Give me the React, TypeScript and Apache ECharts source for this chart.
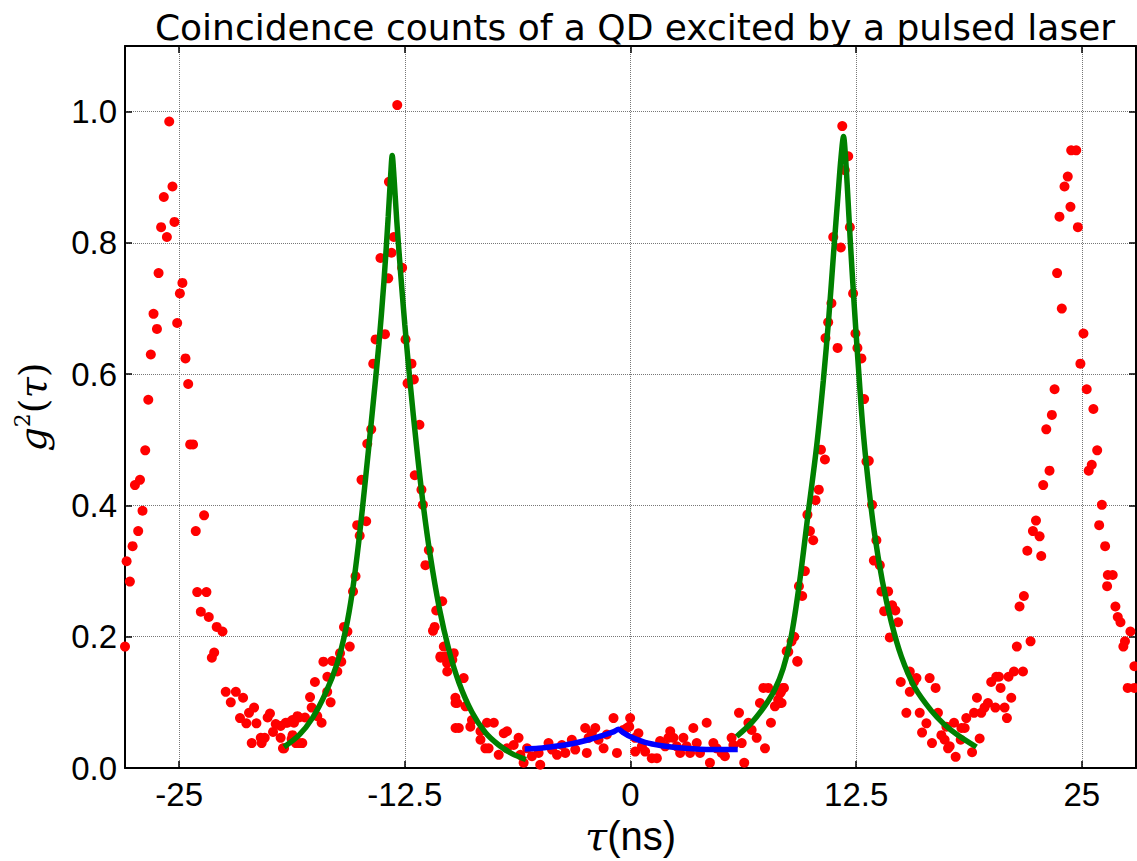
import React, { useEffect, useRef } from "react";
import * as echarts from "echarts";

const xTicks = [-25, -12.5, 0, 12.5, 25];
const yTicks = [0, 0.2, 0.4, 0.6, 0.8, 1.0];

const leftEdgeDots: [number, number][] = [
  [-28.0, 0.185], [-27.91, 0.315], [-27.73, 0.284], [-27.58, 0.338], [-27.45, 0.431], [-27.27, 0.361],
  [-27.17, 0.439], [-27.03, 0.392], [-26.88, 0.484], [-26.71, 0.561], [-26.57, 0.63], [-26.42, 0.692],
  [-26.23, 0.669], [-26.14, 0.754], [-26.0, 0.824], [-25.85, 0.87], [-25.68, 0.809], [-25.55, 0.985],
  [-25.37, 0.886], [-25.26, 0.832], [-25.11, 0.678], [-24.96, 0.723], [-24.82, 0.739], [-24.65, 0.624],
  [-24.5, 0.585], [-24.39, 0.493], [-24.23, 0.493], [-24.08, 0.361], [-24.0, 0.268], [-23.8, 0.238],
  [-23.62, 0.385], [-23.49, 0.268], [-23.36, 0.23], [-23.19, 0.168], [-23.06, 0.176], [-22.92, 0.215],
  [-22.6, 0.208], [-22.42, 0.116], [-22.14, 0.1], [-21.86, 0.116], [-21.63, 0.076], [-21.46, 0.107],
  [-21.28, 0.068], [-21.13, 0.084], [-20.98, 0.038], [-20.85, 0.092], [-20.72, 0.068], [-20.48, 0.046],
  [-20.43, 0.038], [-20.26, 0.046], [-20.1, 0.077], [-19.97, 0.083], [-19.8, 0.055], [-19.65, 0.067],
  [-19.38, 0.046], [-19.25, 0.03], [-19.0, 0.069], [-18.72, 0.05], [-18.64, 0.069], [-18.54, 0.038],
  [-18.45, 0.079],
];

const leftPeakDots: [number, number][] = [
  [-19.38, 0.064], [-19.19, 0.03], [-19.1, 0.069], [-18.77, 0.044], [-18.73, 0.073], [-18.36, 0.077],
  [-18.36, 0.038], [-18.18, 0.038], [-18.03, 0.077], [-17.75, 0.108], [-17.66, 0.092], [-17.48, 0.131],
  [-17.35, 0.079], [-17.11, 0.069], [-17.01, 0.162], [-16.8, 0.116], [-16.79, 0.139], [-16.61, 0.1],
  [-16.52, 0.163], [-16.24, 0.147], [-16.09, 0.175], [-16.02, 0.162], [-15.87, 0.215], [-15.68, 0.208],
  [-15.55, 0.185], [-15.37, 0.269], [-15.23, 0.292], [-15.14, 0.37], [-15.0, 0.354], [-14.9, 0.439],
  [-14.64, 0.376], [-14.58, 0.494], [-14.36, 0.516], [-14.25, 0.616], [-14.12, 0.653], [-13.85, 0.777],
  [-13.6, 0.661], [-13.42, 0.746], [-13.38, 0.893], [-13.24, 0.785], [-13.11, 0.809], [-12.92, 1.01],
  [-12.65, 0.762], [-12.46, 0.653], [-12.35, 0.586], [-12.13, 0.616], [-12.0, 0.592], [-11.95, 0.446],
  [-11.69, 0.523], [-11.58, 0.424], [-11.5, 0.401], [-11.36, 0.309], [-11.17, 0.332], [-10.94, 0.209],
  [-10.85, 0.215], [-10.76, 0.24], [-10.52, 0.168], [-10.43, 0.254], [-10.34, 0.185], [-10.24, 0.17],
  [-10.15, 0.147], [-9.87, 0.165], [-9.69, 0.099], [-9.69, 0.061],
];

const centerDots: [number, number][] = [
  [-10.53, 0.17], [-9.79, 0.175], [-10.16, 0.16], [-9.24, 0.137], [-9.7, 0.107], [-9.14, 0.094],
  [-9.6, 0.099], [-9.51, 0.061], [-8.87, 0.063], [-8.78, 0.073], [-8.31, 0.056], [-7.95, 0.069],
  [-7.57, 0.069], [-7.02, 0.053], [-6.84, 0.056], [-8.31, 0.043], [-8.04, 0.03], [-7.86, 0.03],
  [-7.3, 0.02], [-6.84, 0.03], [-6.47, 0.035], [-6.2, 0.046], [-6.1, 0.02], [-5.92, 0.008],
  [-5.73, 0.03], [-5.46, 0.018], [-5.09, 0.023], [-5.0, 0.005], [-4.54, 0.038], [-4.35, 0.028],
  [-4.07, 0.02], [-3.8, 0.035], [-3.61, 0.023], [-3.25, 0.043], [-3.06, 0.028], [-2.51, 0.061],
  [-2.32, 0.046], [-2.14, 0.053], [-2.42, 0.023], [-1.95, 0.061], [-1.77, 0.043], [-1.49, 0.03],
  [-1.31, 0.051], [-0.94, 0.076], [-0.75, 0.023], [-0.39, 0.058], [-0.02, 0.076], [0.26, 0.046],
  [0.26, 0.025], [-0.07, 0.063], [-0.2, 0.061], [0.44, 0.053], [0.63, 0.033], [0.81, 0.025],
  [1.18, 0.015], [1.46, 0.015], [1.64, 0.041], [1.92, 0.033], [2.2, 0.056], [2.38, 0.046],
  [2.1, 0.046], [2.56, 0.033], [2.75, 0.023], [2.93, 0.046], [3.11, 0.033], [3.3, 0.023],
  [3.48, 0.061], [3.67, 0.038], [3.85, 0.023], [4.22, 0.069], [4.4, 0.008], [4.59, 0.038],
  [4.77, 0.03], [5.05, 0.023], [5.23, 0.018], [5.6, 0.046], [5.7, 0.035], [6.01, 0.084],
  [6.16, 0.038], [6.3, 0.008], [6.53, 0.069], [6.71, 0.058], [6.99, 0.046], [7.45, 0.03],
  [7.17, 0.099], [7.36, 0.122], [7.63, 0.122], [7.78, 0.069], [8.0, 0.094], [8.18, 0.104],
  [8.37, 0.099], [8.46, 0.122], [8.28, 0.114], [8.65, 0.178], [8.92, 0.193], [9.24, 0.163],
];

const rightPeakDots: [number, number][] = [
  [8.28, 0.099], [8.34, 0.116], [8.5, 0.122], [8.74, 0.177], [9.07, 0.2], [9.25, 0.162],
  [9.33, 0.277], [9.51, 0.262], [9.66, 0.3], [9.8, 0.386], [9.94, 0.361], [10.12, 0.347],
  [10.25, 0.408], [10.43, 0.424], [10.55, 0.485], [10.77, 0.47], [10.8, 0.655], [10.95, 0.679],
  [11.13, 0.708], [11.23, 0.809], [11.47, 0.64], [11.65, 0.793], [11.73, 0.978], [11.87, 0.911],
  [12.06, 0.932], [12.15, 0.824], [12.33, 0.723], [12.46, 0.662], [12.57, 0.64], [12.79, 0.624],
  [12.94, 0.562], [13.07, 0.467], [13.2, 0.468], [13.38, 0.401], [13.48, 0.316], [13.62, 0.347],
  [13.81, 0.309], [13.9, 0.269], [14.05, 0.239], [14.27, 0.269], [14.36, 0.199], [14.49, 0.248],
  [14.67, 0.24], [14.82, 0.222], [14.97, 0.131], [15.28, 0.084], [15.47, 0.147], [15.47, 0.116],
  [15.7, 0.131], [15.84, 0.137], [16.02, 0.084], [16.15, 0.054], [16.39, 0.068], [16.57, 0.137],
  [16.7, 0.038], [16.9, 0.122], [17.03, 0.084], [17.22, 0.05], [17.4, 0.043], [17.5, 0.063],
  [17.59, 0.03], [17.68, 0.033], [17.92, 0.069], [18.01, 0.017],
];

const rightEdgeDots: [number, number][] = [
  [18.33, 0.061], [18.51, 0.061], [18.29, 0.043], [18.6, 0.076], [18.92, 0.024], [19.03, 0.084],
  [19.19, 0.107], [19.34, 0.045], [19.43, 0.084], [19.61, 0.092], [19.8, 0.099], [19.98, 0.131],
  [20.21, 0.092], [20.26, 0.139], [20.41, 0.139], [20.5, 0.122], [20.72, 0.092], [20.85, 0.076],
  [20.94, 0.139], [21.09, 0.107], [21.24, 0.147], [21.4, 0.185], [21.55, 0.246], [21.74, 0.147],
  [21.79, 0.262], [21.98, 0.331], [22.16, 0.193], [22.29, 0.361], [22.46, 0.377], [22.66, 0.353],
  [22.75, 0.323], [22.86, 0.431], [23.03, 0.516], [23.21, 0.453], [23.34, 0.538], [23.49, 0.577],
  [23.63, 0.754], [23.76, 0.84], [23.89, 0.7], [24.04, 0.886], [24.22, 0.901], [24.37, 0.855],
  [24.41, 0.941], [24.69, 0.941], [24.78, 0.824], [24.92, 0.616], [25.09, 0.662], [25.27, 0.577],
  [25.38, 0.453], [25.55, 0.462], [25.64, 0.547], [25.85, 0.484], [25.96, 0.37], [26.11, 0.401],
  [26.29, 0.338], [26.4, 0.277], [26.44, 0.294], [26.71, 0.294], [26.86, 0.246], [26.99, 0.23],
  [27.14, 0.222], [27.3, 0.185], [27.39, 0.193], [27.54, 0.122], [27.69, 0.208], [27.91, 0.155],
  [27.91, 0.122],
];

const leftFitX = [-19.19, -18.36, -17.62, -16.89, -16.24, -15.78, -15.41, -15.05, -14.68, -14.31, -13.94,
  -13.66, -13.42, -13.28, -13.2, -13.1, -12.95, -12.75, -12.5, -12.2, -11.85, -11.5, -11.1, -10.6,
  -10.06, -9.5, -8.78, -8.04, -7.3, -6.57, -5.79];
const leftFitY = [0.032, 0.05, 0.076, 0.114, 0.16, 0.21, 0.268, 0.345, 0.44, 0.54, 0.645,
  0.74, 0.84, 0.905, 0.933, 0.9, 0.835, 0.76, 0.675, 0.585, 0.49, 0.405, 0.325, 0.245,
  0.18, 0.13, 0.085, 0.054, 0.035, 0.022, 0.013];

const rightFitX = [5.88, 6.71, 7.45, 8.0, 8.46, 8.9, 9.35, 9.85, 10.31, 10.68, 10.98, 11.25, 11.5,
  11.66, 11.8, 11.9, 12.02, 12.18, 12.38, 12.6, 12.85, 13.15, 13.5, 13.95, 14.45, 15.0, 15.74, 16.67,
  17.4, 18.14, 19.16];
const rightFitY = [0.048, 0.069, 0.095, 0.12, 0.152, 0.2, 0.28, 0.39, 0.49, 0.59, 0.685, 0.785,
  0.875, 0.93, 0.962, 0.935, 0.88, 0.8, 0.71, 0.62, 0.525, 0.44, 0.36, 0.285, 0.222, 0.17, 0.123,
  0.087, 0.066, 0.05, 0.032];

const blueFitX = [-5.86, -5.09, -4.17, -3.25, -2.32, -1.4, -0.95, -0.66, -0.4, -0.02, 0.81, 1.73, 3.02, 4.5, 5.94];
const blueFitY = [0.029, 0.03, 0.033, 0.037, 0.043, 0.051, 0.055, 0.059, 0.054, 0.048, 0.039, 0.034, 0.03, 0.028, 0.028];

const zip = (xs: number[], ys: number[]) => xs.map((x, i) => [x, ys[i]]);

export default function App() {
  const ref = useRef<HTMLDivElement>(null);
  useEffect(() => {
    if (!ref.current) return;
    const chart = echarts.init(ref.current, null, { renderer: "svg" });
    const black = "#000";
    const tickFont = { fontSize: 33, fontFamily: "Liberation Sans, Arial, sans-serif", color: black };
    const dots = [...leftEdgeDots, ...leftPeakDots, ...centerDots, ...rightPeakDots, ...rightEdgeDots];
    const fitLine = (xs: number[], ys: number[], color: string) => ({
      type: "line",
      data: zip(xs, ys),
      showSymbol: false,
      smooth: 0.3,
      lineStyle: { color, width: 5.5 },
    });
    chart.setOption({
      animation: false,
      backgroundColor: "#fff",
      title: {
        text: "Coincidence counts of a QD excited by a pulsed laser",
        left: 630,
        textAlign: "center",
        top: 4,
        textStyle: { fontFamily: "DejaVu Sans", fontSize: 36, fontWeight: "normal", color: black },
      },
      grid: { left: 125, top: 46, right: 1, bottom: 91, containLabel: false },
      xAxis: [
        {
          type: "value",
          min: -28,
          max: 28,
          position: "bottom",
          axisLine: { show: true, onZero: false, lineStyle: { color: black, width: 2 } },
          axisTick: { show: true, inside: true, length: 7, customValues: xTicks, lineStyle: { color: black, width: 1.5 } },
          axisLabel: { ...tickFont, margin: 10, customValues: xTicks, formatter: (v: number) => String(v) },
          splitLine: { show: true, lineStyle: { type: "dotted", color: "#777", width: 1 } },
          name: "{t|τ}{n|(ns)}",
          nameLocation: "middle",
          nameGap: 48,
          nameTextStyle: {
            rich: {
              t: { fontFamily: "DejaVu Serif", fontStyle: "italic", fontSize: 40, color: black },
              n: { fontFamily: "Liberation Sans", fontSize: 40, color: black },
            },
          },
        },
        {
          type: "value",
          min: -28,
          max: 28,
          position: "top",
          axisLine: { show: true, onZero: false, lineStyle: { color: black, width: 2 } },
          axisTick: { show: true, inside: true, length: 7, customValues: xTicks, lineStyle: { color: black, width: 1.5 } },
          axisLabel: { show: false },
          splitLine: { show: false },
        },
      ],
      yAxis: [
        {
          type: "value",
          min: 0,
          max: 1.1,
          position: "left",
          axisLine: { show: true, onZero: false, lineStyle: { color: black, width: 2 } },
          axisTick: { show: true, inside: true, length: 7, customValues: yTicks, lineStyle: { color: black, width: 1.5 } },
          axisLabel: { ...tickFont, margin: 8, customValues: yTicks, formatter: (v: number) => v.toFixed(1) },
          splitLine: { show: true, lineStyle: { type: "dotted", color: "#777", width: 1 } },
          name: "{g|g}{s|2}{p|(}{t|τ}{p|)}",
          nameLocation: "middle",
          nameRotate: 90,
          nameGap: 70,
          nameTextStyle: {
            rich: {
              g: { fontFamily: "DejaVu Serif", fontStyle: "italic", fontSize: 38, color: black },
              s: { fontFamily: "DejaVu Serif", fontSize: 22, color: black, verticalAlign: "top", padding: [0, 0, 22, 0] },
              p: { fontFamily: "DejaVu Serif", fontSize: 38, color: black },
              t: { fontFamily: "DejaVu Serif", fontStyle: "italic", fontSize: 38, color: black },
            },
          },
        },
        {
          type: "value",
          min: 0,
          max: 1.1,
          position: "right",
          axisLine: { show: true, onZero: false, lineStyle: { color: black, width: 2 } },
          axisTick: { show: true, inside: true, length: 7, customValues: yTicks, lineStyle: { color: black, width: 1.5 } },
          axisLabel: { show: false },
          splitLine: { show: false },
        },
      ],
      series: [
        {
          type: "scatter",
          data: dots,
          symbolSize: 10,
          itemStyle: { color: "#ff0000", opacity: 1 },
          xAxisIndex: 0,
          yAxisIndex: 0,
        },
        fitLine(leftFitX, leftFitY, "#008000"),
        fitLine(rightFitX, rightFitY, "#008000"),
        fitLine(blueFitX, blueFitY, "#0000ff"),
      ],
    });
    return () => chart.dispose();
  }, []);
  return (
    <div
      ref={ref}
      style={{ position: "absolute", left: 0, top: 0, width: 1137, height: 861, background: "#fff" }}
    />
  );
}
